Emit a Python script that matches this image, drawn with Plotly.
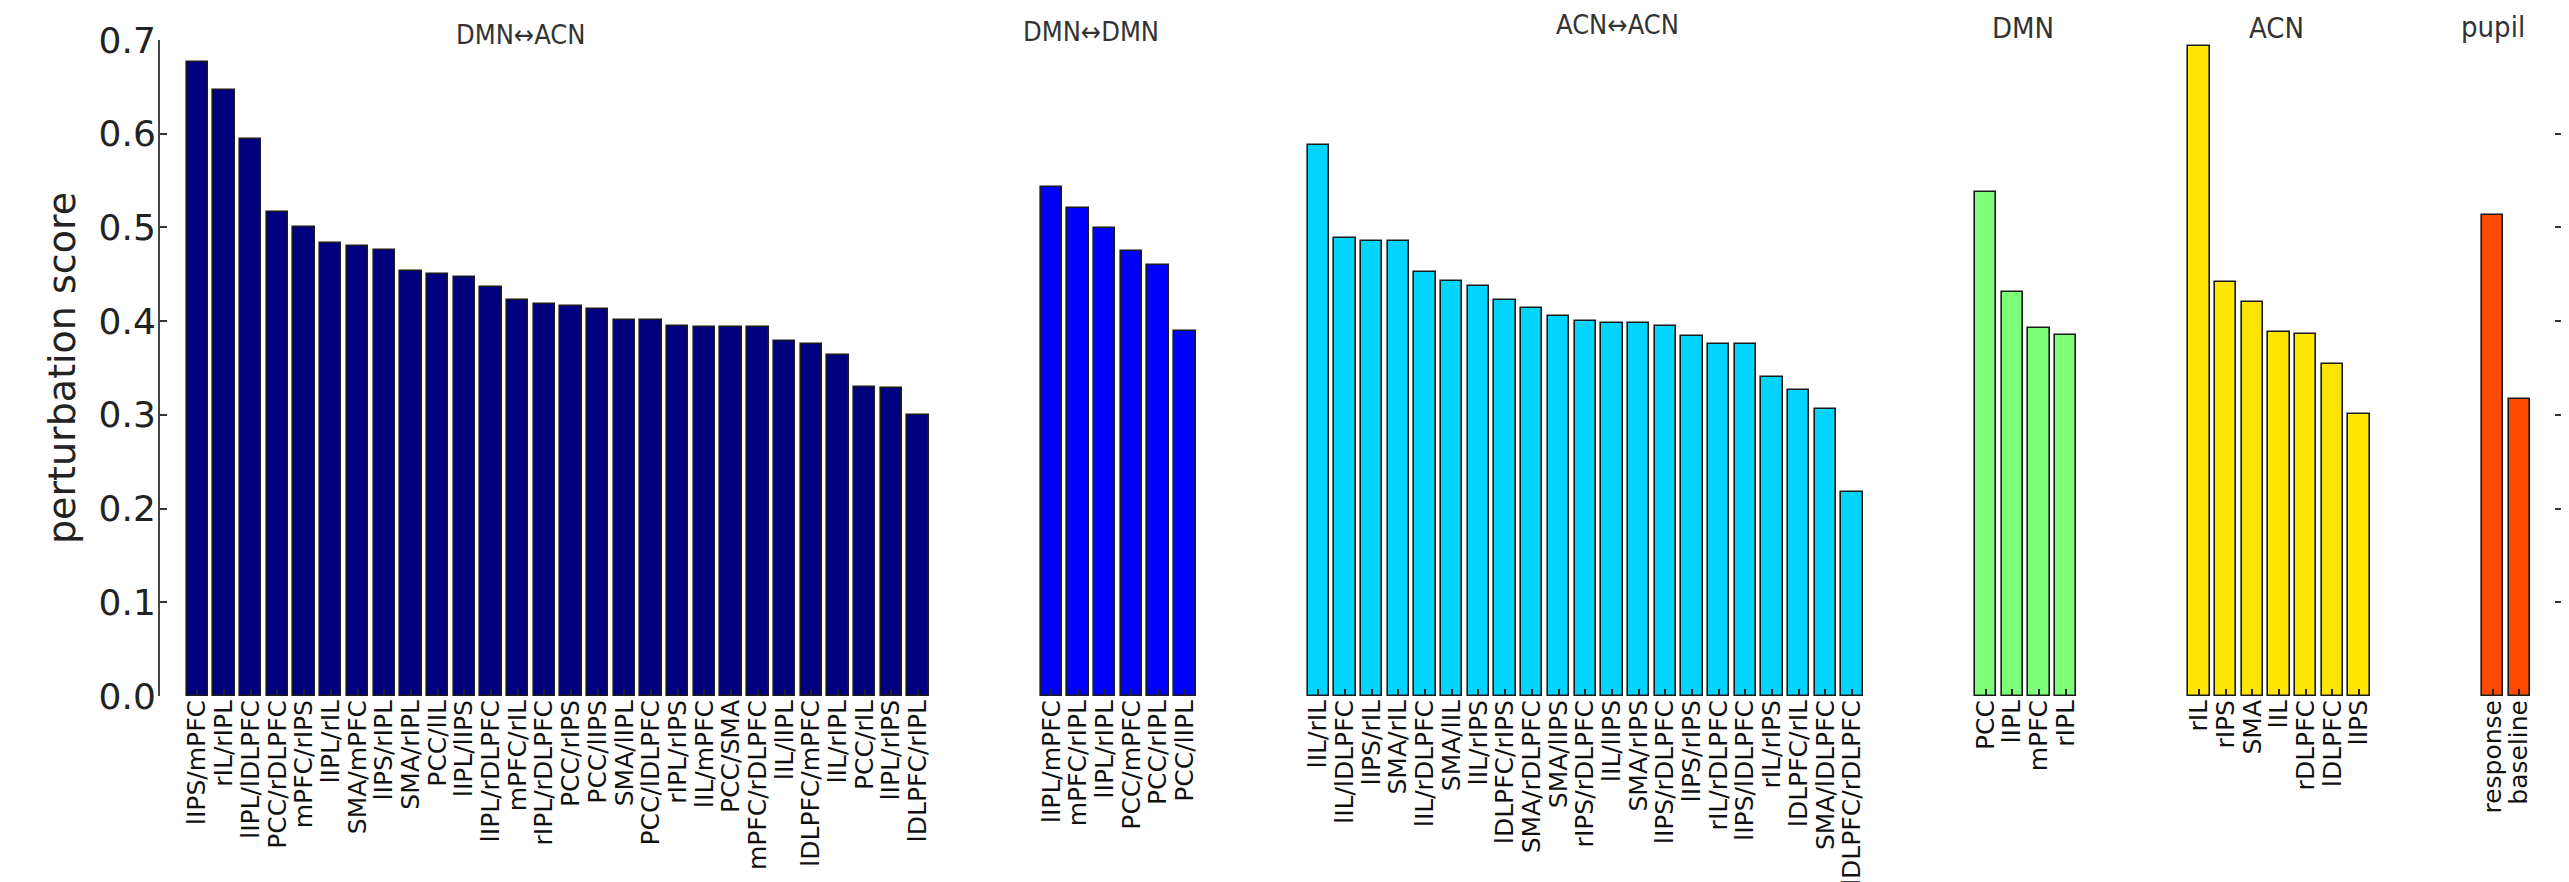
import plotly.graph_objects as go

# ---------------- data ----------------
group_names = ["DMN\u2194ACN", "DMN\u2194DMN", "ACN\u2194ACN", "DMN", "ACN", "pupil"]

dmn_acn_labels = ["lIPS/mPFC", "rIL/rIPL", "lIPL/lDLPFC", "PCC/rDLPFC", "mPFC/rIPS", "lIPL/rIL",
                  "SMA/mPFC", "lIPS/rIPL", "SMA/rIPL", "PCC/lIL", "lIPL/lIPS", "lIPL/rDLPFC",
                  "mPFC/rIL", "rIPL/rDLPFC", "PCC/rIPS", "PCC/lIPS", "SMA/lIPL", "PCC/lDLPFC",
                  "rIPL/rIPS", "lIL/mPFC", "PCC/SMA", "mPFC/rDLPFC", "lIL/lIPL", "lDLPFC/mPFC",
                  "lIL/rIPL", "PCC/rIL", "lIPL/rIPS", "lDLPFC/rIPL"]
dmn_acn_values = [0.677, 0.647, 0.594, 0.517, 0.500, 0.483, 0.480, 0.476, 0.453, 0.450,
                  0.447, 0.436, 0.423, 0.418, 0.416, 0.413, 0.401, 0.401, 0.395, 0.394,
                  0.394, 0.394, 0.379, 0.376, 0.364, 0.330, 0.329, 0.300]

dmn_dmn_labels = ["lIPL/mPFC", "mPFC/rIPL", "lIPL/rIPL", "PCC/mPFC", "PCC/rIPL", "PCC/lIPL"]
dmn_dmn_values = [0.543, 0.521, 0.499, 0.475, 0.460, 0.389]

acn_acn_labels = ["lIL/rIL", "lIL/lDLPFC", "lIPS/rIL", "SMA/rIL", "lIL/rDLPFC", "SMA/lIL",
                  "lIL/rIPS", "lDLPFC/rIPS", "SMA/rDLPFC", "SMA/lIPS", "rIPS/rDLPFC",
                  "lIL/lIPS", "SMA/rIPS", "lIPS/rDLPFC", "lIPS/rIPS", "rIL/rDLPFC",
                  "lIPS/lDLPFC", "rIL/rIPS", "lDLPFC/rIL", "SMA/lDLPFC", "lDLPFC/rDLPFC"]
acn_acn_values = [0.588, 0.489, 0.486, 0.486, 0.452, 0.443, 0.437, 0.423, 0.414, 0.405,
                  0.400, 0.398, 0.398, 0.395, 0.384, 0.376, 0.376, 0.340, 0.326, 0.306, 0.218]

dmn_labels = ["PCC", "lIPL", "mPFC", "rIPL"]
dmn_values = [0.538, 0.431, 0.393, 0.385]

acn_labels = ["rIL", "rIPS", "SMA", "lIL", "rDLPFC", "lDLPFC", "lIPS"]
acn_values = [0.694, 0.442, 0.420, 0.388, 0.386, 0.354, 0.301]

pupil_labels = ["response", "baseline"]
pupil_values = [0.513, 0.317]

group_colors = ["#000080", "#0000ff", "#00d4ff", "#7dff7a", "#ffe600", "#ff4a00"]

y_ticks = [0.0, 0.1, 0.2, 0.3, 0.4, 0.5, 0.6, 0.7]

# caption positions (x in data units, y in paper units) for the group captions
caption_x = [12.5, 33.9, 53.6, 68.8, 78.3, 86.4]
caption_y = [1.008, 1.013, 1.024, 1.018, 1.018, 1.020]
caption_size = [27, 27, 27, 29, 29, 29]

# ---------------- figure ----------------
groups_labels = [dmn_acn_labels, dmn_dmn_labels, acn_acn_labels, dmn_labels, acn_labels, pupil_labels]
groups_values = [dmn_acn_values, dmn_dmn_values, acn_acn_values, dmn_values, acn_values, pupil_values]

GAP = 4
BAR_W = 0.8

fig = go.Figure()
tickvals, ticktext = [], []
start = 0
for name, labels, values, color in zip(group_names, groups_labels, groups_values, group_colors):
    xs = [start + i + BAR_W / 2 for i in range(len(values))]
    fig.add_trace(go.Bar(
        x=xs, y=values, width=BAR_W, name=name,
        marker=dict(color=color, line=dict(color="#1a1a1a", width=1.6)),
        showlegend=False,
    ))
    tickvals += xs
    ticktext += labels
    start += len(values) + GAP

font_main = "DejaVu Sans"

fig.update_layout(
    width=2569, height=882,
    margin=dict(l=152, r=15, t=32, b=194, autoexpand=False),
    plot_bgcolor="white", paper_bgcolor="white",
    bargap=0,
    xaxis=dict(
        range=[-1, start - GAP + 1],
        tickmode="array", tickvals=tickvals, ticktext=ticktext,
        tickangle=-90, automargin=False,
        ticks="inside", ticklen=7, tickwidth=1.5, tickcolor="#222",
        ticklabelstandoff=-2,
        showline=False, showgrid=False, zeroline=False,
        tickfont=dict(family=font_main, size=25, color="#111"),
    ),
    yaxis=dict(
        range=[0, 0.7], automargin=False,
        tickmode="array", tickvals=y_ticks, ticktext=[f"{v:.1f}" for v in y_ticks],
        ticks="inside", ticklen=7, tickwidth=1.5, tickcolor="#333",
        showline=True, linecolor="#444", linewidth=2, mirror="ticks",
        ticklabelstandoff=-5,
        showgrid=False, zeroline=False,
        tickfont=dict(family=font_main, size=36, color="#222"),
    ),
)

# right spine
fig.add_shape(type="line", xref="paper", yref="paper", x0=1, x1=1, y0=0, y1=1,
              line=dict(color="#444", width=2))

# y axis title
fig.add_annotation(
    text="perturbation score", textangle=-90,
    xref="paper", yref="paper", x=-0.0408, y=0.50,
    xanchor="center", yanchor="middle", showarrow=False,
    font=dict(family=font_main, size=38, color="#222"),
)

# group captions
for name, cx, cy, cs in zip(group_names, caption_x, caption_y, caption_size):
    fig.add_annotation(
        text=name, xref="x", yref="paper", x=cx, y=cy,
        xanchor="center", yanchor="middle", showarrow=False,
        font=dict(family="DejaVu Sans Condensed, DejaVu Sans", size=cs, color="#333"),
    )

fig.write_html("out.html")
